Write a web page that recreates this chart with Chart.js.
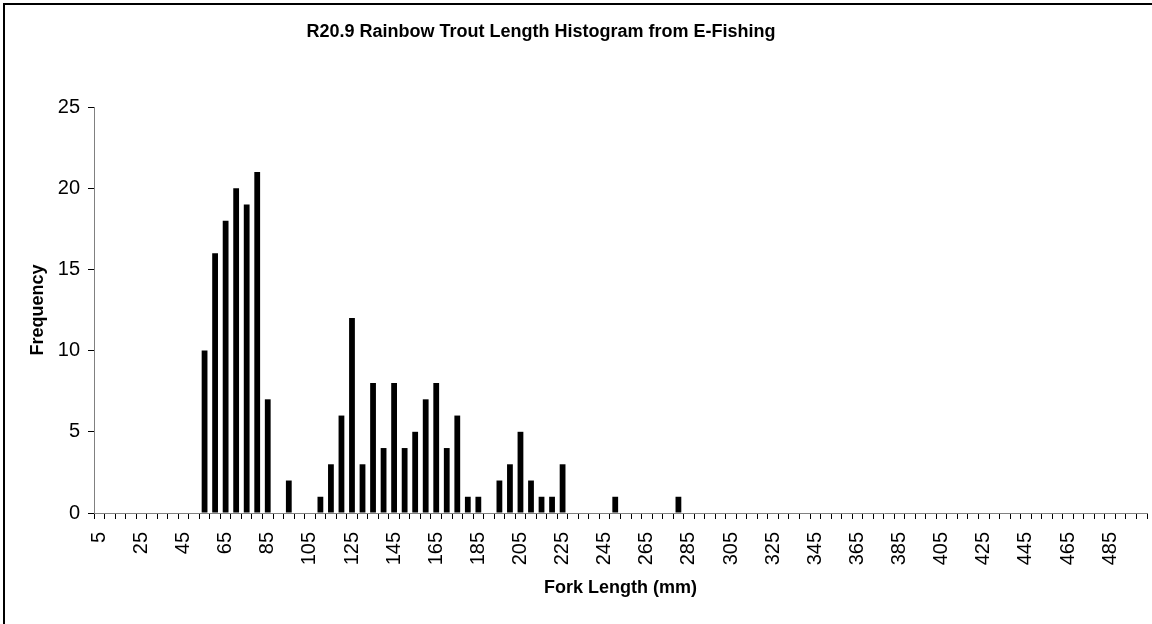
<!DOCTYPE html>
<html>
<head>
<meta charset="utf-8">
<title>R20.9 Rainbow Trout Length Histogram from E-Fishing</title>
<script src="https://cdn.jsdelivr.net/npm/chart.js@4.4.1/dist/chart.umd.min.js"></script>
<style>
  html, body { margin: 0; padding: 0; background: #fff; overflow: hidden; }
  #wrap { position: relative; width: 1152px; height: 624px; overflow: hidden; }
  /* chart frame: only the top and left edges are inside the picture */
  #frame { position: absolute; left: 3px; top: 3px; right: 0; bottom: 0; border-top: 2px solid #000; border-left: 2px solid #000; }
  #chart { position: absolute; left: 0; top: 0; }
</style>
</head>
<body>
<div id="wrap">
  <div id="frame"></div>
  <canvas id="chart" width="1152" height="624"></canvas>
</div>
<script>
// Chart text
const chartTitle = "R20.9 Rainbow Trout Length Histogram from E-Fishing";
const xTitle = "Fork Length (mm)";
const yTitle = "Frequency";

// Fork length classes (mm)
const forkLengths = [
    5, 10, 15, 20, 25, 30, 35, 40, 45, 50,
    55, 60, 65, 70, 75, 80, 85, 90, 95, 100,
    105, 110, 115, 120, 125, 130, 135, 140, 145, 150,
    155, 160, 165, 170, 175, 180, 185, 190, 195, 200,
    205, 210, 215, 220, 225, 230, 235, 240, 245, 250,
    255, 260, 265, 270, 275, 280, 285, 290, 295, 300,
    305, 310, 315, 320, 325, 330, 335, 340, 345, 350,
    355, 360, 365, 370, 375, 380, 385, 390, 395, 400,
    405, 410, 415, 420, 425, 430, 435, 440, 445, 450,
    455, 460, 465, 470, 475, 480, 485, 490, 495, 500
];

// Number of fish in each class
const frequency = [
    0, 0, 0, 0, 0, 0, 0, 0, 0, 0,
    10, 16, 18, 20, 19, 21, 7, 0, 2, 0,
    0, 1, 3, 6, 12, 3, 8, 4, 8, 4,
    5, 7, 8, 4, 6, 1, 1, 0, 2, 3,
    5, 2, 1, 1, 3, 0, 0, 0, 0, 1,
    0, 0, 0, 0, 0, 1, 0, 0, 0, 0,
    0, 0, 0, 0, 0, 0, 0, 0, 0, 0,
    0, 0, 0, 0, 0, 0, 0, 0, 0, 0,
    0, 0, 0, 0, 0, 0, 0, 0, 0, 0,
    0, 0, 0, 0, 0, 0, 0, 0, 0, 0
];

// Y axis range
const yMin = 0;
const yMax = 25;
const yStep = 5;

const fontFamily = '"Liberation Sans", Arial, sans-serif';

// Draw the chart title (sits left of the plot centre in the original)
const titlePlugin = {
    id: "chartTitle",
    afterDraw(chart) {
        const ctx = chart.ctx;
        ctx.save();
        ctx.font = "bold 18px " + fontFamily;
        ctx.fillStyle = "#000";
        ctx.textAlign = "center";
        ctx.textBaseline = "alphabetic";
        ctx.fillText(chartTitle, 541, 37);
        ctx.restore();
    }
};

const ctx = document.getElementById("chart").getContext("2d");

new Chart(ctx, {
    type: "bar",
    data: {
        labels: forkLengths,
        datasets: [
            {
                label: yTitle,
                data: frequency,
                backgroundColor: "#000",
                borderWidth: 0,
                categoryPercentage: 1.0,
                barPercentage: 0.55,
            },
        ],
    },
    options: {
        responsive: false,
        animation: false,
        layout: {
            padding: { top: 107, right: 5, left: 0, bottom: 0 },
        },
        plugins: {
            legend: { display: false },
            tooltip: { enabled: false },
        },
        scales: {
            x: {
                offset: true,
                afterFit: function (scale) {
                    scale.height = 111; // keeps the plot bottom at the same spot
                    scale.paddingLeft = 0;
                    scale.paddingRight = 0;
                },
                grid: {
                    display: true,
                    offset: true,
                    drawOnChartArea: false,
                    tickLength: 6,
                    color: "#000",
                },
                border: { display: true, color: "#808080", width: 1 },
                ticks: {
                    autoSkip: false,
                    minRotation: 90,
                    maxRotation: 90,
                    padding: 13,
                    color: "#000",
                    font: { family: fontFamily, size: 20 },
                    callback: function (value, index) {
                        // only every 4th class is labelled
                        return index % 4 === 0 ? this.getLabelForValue(value) : "";
                    },
                },
                title: {
                    display: true,
                    text: xTitle,
                    color: "#000",
                    font: { family: fontFamily, size: 18, weight: "bold" },
                    padding: { top: 0, bottom: 25 },
                },
            },
            y: {
                min: yMin,
                max: yMax,
                afterFit: function (scale) {
                    scale.width = 94;
                    scale.paddingTop = 0;
                    scale.paddingBottom = 0;
                },
                grid: {
                    display: true,
                    drawOnChartArea: false,
                    tickLength: 6,
                    color: "#000",
                },
                border: { display: true, color: "#808080", width: 1 },
                ticks: {
                    stepSize: yStep,
                    padding: 8,
                    color: "#000",
                    font: { family: fontFamily, size: 20 },
                },
                title: {
                    display: true,
                    text: yTitle,
                    color: "#000",
                    font: { family: fontFamily, size: 18, weight: "bold" },
                    padding: { top: 27, bottom: 0 },
                },
            },
        },
    },
    plugins: [titlePlugin],
});
</script>
</body>
</html>
